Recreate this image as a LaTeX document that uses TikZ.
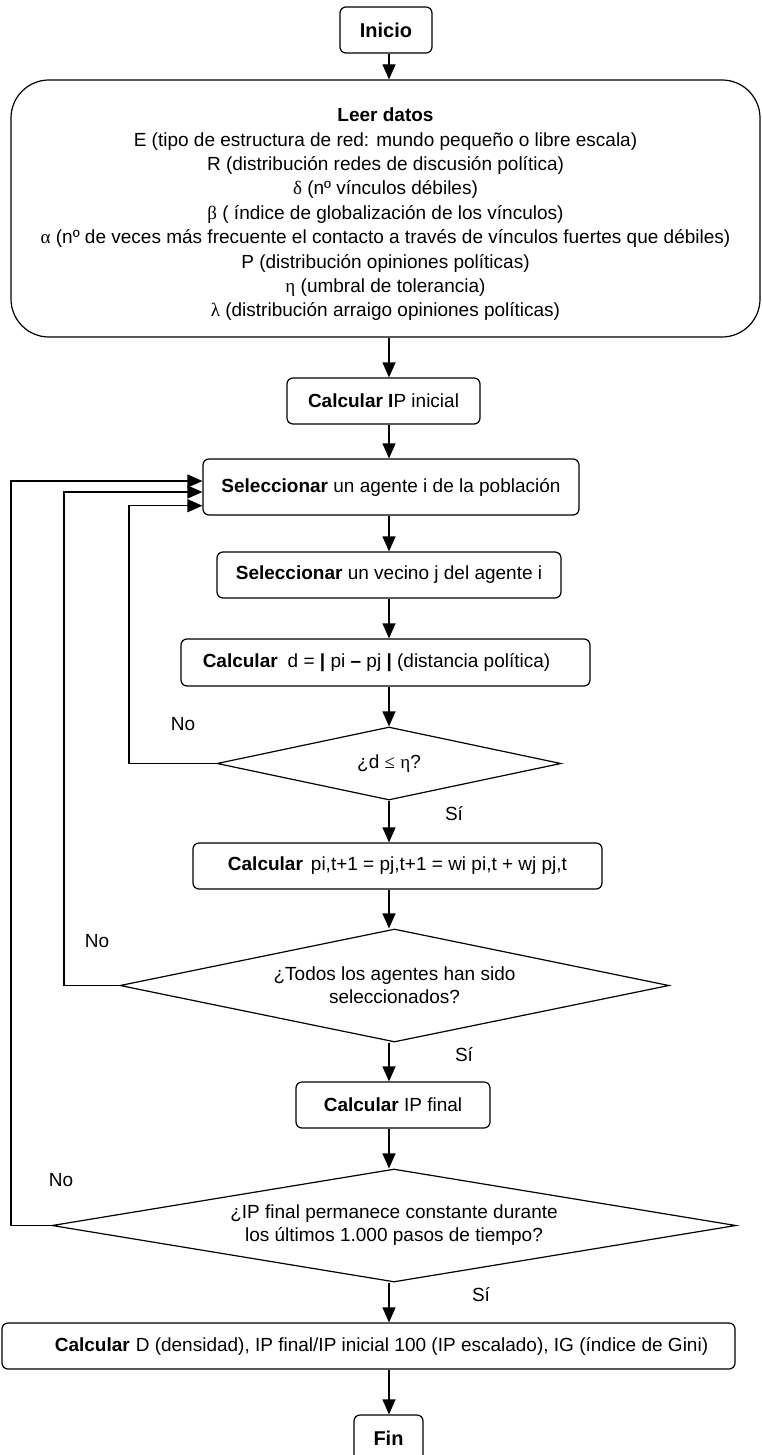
\documentclass[tikz,border=0pt]{standalone}
\usepackage{fontspec}
\setmainfont{Liberation Sans}
\newfontfamily\grk{Liberation Serif}
\usetikzlibrary{arrows.meta,shapes.geometric}
\begin{document}
\begin{tikzpicture}[x=1pt,y=-1pt,line width=1.2pt,
  procbox/.style={draw, rounded corners=6pt, inner sep=0pt, align=center, font=\fontsize{19}{23}\selectfont},
  decis/.style={draw, diamond, inner sep=0pt, align=center, font=\fontsize{19}{23}\selectfont},
  arr/.style={-{Triangle[length=15pt,width=13pt]}},
  lbl/.style={inner sep=0pt, font=\fontsize{19}{23}\selectfont}]
\clip (0,0) rectangle (761,1455);
\useasboundingbox (0,0) rectangle (761,1455);
\fill[white] (0,0) rectangle (761,1455);

\coordinate (ax) at (389,0);

\node[procbox, minimum width=92pt, minimum height=46pt, font=\fontsize{20}{23}\selectfont\bfseries] (ini) at (386,30) {Inicio};

\node[procbox, rounded corners=38pt, minimum width=749pt, minimum height=257pt, font=\fontsize{19}{24.4}\selectfont] (leer) at (385.5,208.5)
 {\rule{0pt}{25.5pt}\textbf{Leer datos}\\
  E (tipo de estructura de red: mundo pequeño o libre escala)\\
  R (distribución redes de discusión política)\\
  {\grk δ} (nº vínculos débiles)\\
  {\grk β} ( índice de globalización de los vínculos)\\
  {\grk α} (nº de veces más frecuente el contacto a través de vínculos fuertes que débiles)\\
  P (distribución opiniones políticas)\\
  {\grk η} (umbral de tolerancia)\\
  {\grk λ} (distribución arraigo opiniones políticas)};

\node[procbox, minimum width=193pt, minimum height=46pt] (ipi) at (383.5,401) {\textbf{Calcular} \textbf{I}P inicial};

\node[procbox, minimum width=376pt, minimum height=56pt] (sel) at (391,487) {\textbf{Seleccionar} un agente i de la población};

\node[procbox, minimum width=344pt, minimum height=46pt] (vec) at (389,575) {\textbf{Seleccionar} un vecino j del agente i};

\node[procbox, minimum width=409pt, minimum height=47pt] (cd) at (385.5,662.5) {\textbf{Calcular}\hspace{10pt}d = \textbf{|} pi \textbf{–} pj \textbf{|} (distancia política)\hspace*{18pt}};

\node[decis, aspect=4.71, minimum width=344pt, minimum height=73pt] (d1) at (389,763.5) {¿d {\grk ≤} {\grk η}?};

\node[procbox, minimum width=409pt, minimum height=46pt] (cp) at (397.5,866) {\textbf{Calcular}\hspace{8pt}pi,t+1 = pj,t+1 = wi pi,t + wj pj,t};

\node[decis, aspect=4.86, minimum width=549pt, minimum height=113pt] (d2) at (394.5,985.5) {¿Todos los agentes han sido\\seleccionados?};

\node[procbox, minimum width=194pt, minimum height=46pt] (ipf) at (393,1105) {\textbf{Calcular} IP final};

\node[decis, aspect=6.05, minimum width=684pt, minimum height=113pt] (d3) at (394,1225.5) {¿IP final permanece constante durante\\los últimos 1.000 pasos de tiempo?};

\node[procbox, minimum width=733pt, minimum height=46pt] (res) at (368.5,1346) {\hspace*{26pt}\textbf{Calcular}\hspace{6pt}D (densidad), IP final/IP inicial 100 (IP escalado), IG (índice de Gini)};

\node[procbox, minimum width=69pt, minimum height=46pt, font=\fontsize{20}{23}\selectfont\bfseries] (fin) at (388.5,1438) {Fin};

\node[lbl] (no1) at (183,724) {No};
\node[lbl] (si1) at (454,814) {Sí};
\node[lbl] (no2) at (97,941) {No};
\node[lbl] (si2) at (464,1055) {Sí};
\node[lbl] (no3) at (61,1180) {No};
\node[lbl] (si3) at (481,1295) {Sí};

\draw[arr] (ax |- ini.south) -- (ax |- leer.north);
\draw[arr] (ax |- leer.south) -- (ax |- ipi.north);
\draw[arr] (ax |- ipi.south) -- (ax |- sel.north);
\draw[arr] (ax |- sel.south) -- (ax |- vec.north);
\draw[arr] (ax |- vec.south) -- (ax |- cd.north);
\draw[arr] (ax |- cd.south) -- (ax |- d1.north);
\draw[arr] (ax |- d1.south) -- (ax |- cp.north);
\draw[arr] (ax |- cp.south) -- (ax |- d2.north);
\draw[arr] (ax |- d2.south) -- (ax |- ipf.north);
\draw[arr] (ax |- ipf.south) -- (ax |- d3.north);
\draw[arr] (ax |- d3.south) -- (ax |- res.north);
\draw[arr] (ax |- res.south) -- (ax |- fin.north);

\coordinate (l1) at (129,505.7);
\coordinate (l2) at (64,492);
\coordinate (l3) at (11,481);
\draw[arr] (d1.west) -| (l1) -- (l1 -| sel.west);
\draw[arr] (d2.west) -| (l2) -- (l2 -| sel.west);
\draw[arr] (d3.west) -| (l3) -- (l3 -| sel.west);
\end{tikzpicture}
\end{document}
